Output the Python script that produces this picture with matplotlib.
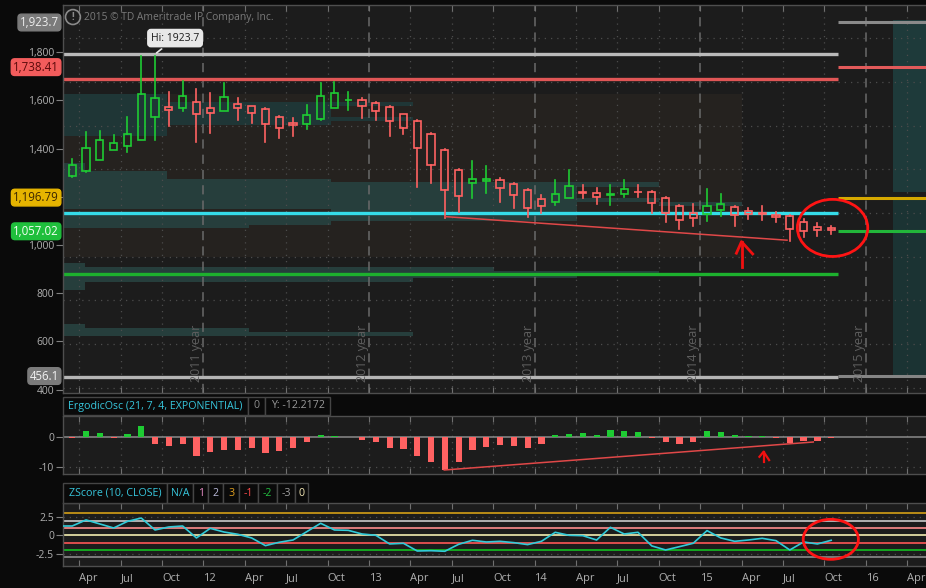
import matplotlib
matplotlib.use('Agg')
import matplotlib.pyplot as plt
import matplotlib.transforms as mtransforms
from matplotlib.patches import Rectangle, Ellipse
import pandas as pd

plt.rcParams['font.family'] = ['Open Sans', 'DejaVu Sans']

# ---------------- data ----------------
months = pd.period_range('2011-03', '2015-10', freq='M')
opens = [1286, 1306, 1353, 1395, 1411, 1436, 1530, 1573, 1569, 1594,
         1569, 1557, 1586, 1577, 1565, 1532, 1505, 1503, 1523, 1569,
         1600, 1602, 1590, 1573, 1543, 1515, 1461, 1395, 1312, 1258,
         1265, 1271, 1254, 1229, 1192, 1180, 1196, 1220, 1217, 1209,
         1211, 1222, 1221, 1196, 1163, 1134, 1130, 1146, 1159, 1142,
         1131, 1125, 1121, 1096, 1076, 1071]
highs = [1357, 1469, 1475, 1458, 1533, 1786, 1786, 1637, 1682, 1649,
         1633, 1674, 1611, 1579, 1567, 1537, 1528, 1581, 1671, 1678,
         1637, 1611, 1592, 1577, 1545, 1517, 1463, 1397, 1314, 1347,
         1330, 1279, 1256, 1231, 1206, 1268, 1310, 1251, 1238, 1251,
         1268, 1251, 1223, 1198, 1165, 1169, 1231, 1213, 1161, 1155,
         1164, 1139, 1123, 1107, 1092, 1080]
lows = [1284, 1304, 1351, 1393, 1385, 1434, 1436, 1492, 1555, 1427,
        1464, 1555, 1519, 1505, 1427, 1443, 1453, 1481, 1521, 1567,
        1561, 1528, 1519, 1453, 1460, 1240, 1258, 1113, 1137, 1196,
        1215, 1178, 1153, 1115, 1134, 1166, 1194, 1195, 1171, 1167,
        1201, 1199, 1134, 1095, 1066, 1079, 1099, 1120, 1079, 1108,
        1102, 1095, 1016, 1033, 1037, 1045]
closes = [1333, 1403, 1436, 1422, 1461, 1627, 1611, 1561, 1619, 1544,
          1548, 1613, 1569, 1548, 1503, 1486, 1497, 1540, 1619, 1633,
          1603, 1577, 1557, 1515, 1486, 1404, 1334, 1229, 1204, 1275,
          1275, 1237, 1208, 1154, 1163, 1213, 1246, 1217, 1199, 1212,
          1233, 1218, 1175, 1134, 1105, 1113, 1163, 1171, 1126, 1127,
          1129, 1116, 1067, 1058, 1063, 1063]
ergodic = [-0.2, 2.1, 1.6, -0.2, 1.2, 3.8, -2.1, -2.8, -2.1, -6.2,
           -4.8, -4.2, -4.2, -3.4, -5.1, -4.4, -3.6, -1.4, 0.8, 0.4,
           0.0, -0.9, -1.4, -3.6, -3.9, -6.2, -8.1, -10.9, -8.1, -4.2,
           -3.1, -2.6, -2.8, -3.4, -2.1, 0.8, 1.1, 1.4, 0.8, 2.4,
           2.1, 1.8, -0.1, -1.4, -2.1, -1.4, 2.1, 1.8, 0.8, 0.4,
           0.4, -0.1, -2.0, -1.1, -1.2, -0.1]
zscore = [1.27, 2.1, 1.55, 1.0, 1.9, 2.36, 0.73, 1.14, 1.27, -0.36,
          0.95, 0.45, 0.14, -0.36, -1.41, -0.95, -0.64, 0.5, 1.64, 0.73,
          0.68, 0.18, 0.0, -1.18, -1.09, -2.14, -2.1, -2.18, -1.23, -0.68,
          -0.91, -0.82, -1.0, -1.27, -0.82, 0.41, 0.0, -0.05, -0.64, 1.09,
          0.18, 0.41, -1.45, -2.0, -1.55, -1.09, 0.64, -0.36, -0.82, -0.64,
          -0.41, -0.73, -2.0, -0.91, -1.18, -0.68]

# study lines: (value, colour) left part / right part
left_levels = [(1793, '#b9b9b9'), (1689, '#e05656'), (1133, '#35dce9'),
               (880, '#1db12e'), (454, '#b5b5b5')]
right_levels = [(1923.7, '#8a8a8a'), (1738.41, '#e25a5a'), (1196.79, '#d6a900'),
                (1057.02, '#22b63a'), (456.1, '#858585')]
price_boxes = [('1,923.7', 1923.7, '#7b7b7b', '#eeeeee'),
               ('1,738.41', 1738.41, '#f25c5c', '#5a0a0a'),
               ('1,196.79', 1196.79, '#e6b400', '#3a2600'),
               ('1,057.02', 1057.02, '#1fbf3c', '#f4fff4'),
               ('456.1', 456.1, '#7b7b7b', '#f2f2f2')]
y_ticks = [1800, 1600, 1400, 1200, 1000, 800, 600, 400]
y_tick_labels = ['1,800', '1,600', '1,400', '', '1,000', '800', '600', '400']
main_hgrid = [1860, 1678, 1496, 1315, 1133, 951, 770, 588, 406]
z_levels = [(3, '#d4a017'), (2, '#c9c9c9'), (1, '#ff8c8c'), (0, '#f3edb0'),
            (-1, '#ff5656'), (-2, '#12c022'), (-3, '#8c8c8c')]

# background profile blocks (u0, u1, v0, v1, colour)
teal_hi = '#1f3636'
teal_lo = '#263e3c'
bg_blocks = [
    (1.83, 51.0, 950, 1627, '#25221f'),
    (1.83, 9.37, 1453, 1627, teal_hi),
    (9.37, 21.25, 1498, 1594, teal_hi),
    (21.25, 27.2, 1577, 1594, teal_hi),
    (21.25, 27.2, 1514, 1531, teal_hi),
    (1.83, 3.43, 1282, 1340, teal_lo),
    (1.83, 9.37, 1149, 1307, teal_lo),
    (9.37, 21.25, 1149, 1274, teal_lo),
    (21.25, 39.1, 1101, 1262, teal_lo),
    (1.83, 15.3, 1070, 1124, teal_lo),
    (15.3, 21.25, 1083, 1124, teal_lo),
    (39.1, 45.0, 1240, 1262, teal_lo),
    (39.1, 45.0, 1177, 1195, teal_lo),
    (45.0, 51.0, 1162, 1177, teal_lo),
    (1.83, 3.43, 813, 925, teal_lo),
    (3.43, 27.2, 847, 909, teal_lo),
    (27.2, 33.1, 864, 909, teal_lo),
    (33.1, 39.1, 864, 892, teal_lo),
    (39.1, 45.0, 879, 892, teal_lo),
    (1.83, 3.43, 622, 671, teal_lo),
    (3.43, 15.3, 622, 654, teal_lo),
    (15.3, 27.2, 622, 638, teal_lo),
    (62.0, 64.4, 1220, 1934, '#1e3a3a'),
    (62.0, 64.4, 452, 1195, '#1b3333'),
]

# ---------------- layout helpers ----------------
W, H = 926, 588
fig = plt.figure(figsize=(W / 100, H / 100), dpi=100, facecolor='#0a0a0a')


def px_axes(x0, y0, x1, y1):
    return fig.add_axes([x0 / W, 1 - y1 / H, (x1 - x0) / W, (y1 - y0) / H])


XL = (1.83, 64.37)
PANEL = '#1c1c1c'
SPINE = '#4e4e4e'
TXT = '#b0b0b0'

ax = px_axes(63, 5, 926, 393)
ax_e = px_axes(63, 416, 926, 474.3)
ax_z = px_axes(63, 503.3, 926, 566)

pos = [(p.year - 2011) * 12 + p.month - 1 + 0.5 for p in months]
qticks = list(range(3, 64, 3))
mnames = {0: None, 3: 'Apr', 6: 'Jul', 9: 'Oct'}
qlabels = [("%02d" % ((2011 + q // 12) % 100)) if q % 12 == 0 else mnames[q % 12]
           for q in qticks]

for a in (ax, ax_e, ax_z):
    a.set_facecolor(PANEL)
    a.set_xlim(*XL)
    for s in a.spines.values():
        s.set_color(SPINE)
        s.set_linewidth(1)
    a.spines['right'].set_visible(False)
    a.set_xticks(qticks)
    a.tick_params(axis='x', direction='in', top=True, bottom=True, length=4,
                  color='#707070', labelbottom=False)
    a.tick_params(axis='y', direction='out', length=5, color='#808080',
                  labelcolor=TXT, labelsize=7.5, pad=1.5)

# ---------------- main panel ----------------
ax.set_ylim(385.7, 1996.3)
for u0, u1, v0, v1, c in bg_blocks:
    ax.add_patch(Rectangle((u0, v0), u1 - u0, v1 - v0, fc=c, ec='none', zorder=0.5))

for q in qticks:
    if q % 12 == 0:
        ax.axvline(q, color='#6a6a6a', lw=1.1, ls=(0, (6, 4)), zorder=1)
    else:
        ax.axvline(q, color='#4c4c4c', lw=0.9, ls=(0, (1, 4)), zorder=1)
for g in main_hgrid:
    ax.axhline(g, color='#4c4c4c', lw=0.9, ls=(0, (1, 4)), zorder=1)

ax.set_yticks(y_ticks)
ax.set_yticklabels(y_tick_labels)

split = 58.0
for v, c in left_levels:
    ax.plot([XL[0], split], [v, v], color=c, lw=2.4, solid_capstyle='butt', zorder=2)
for v, c in right_levels:
    ax.plot([split, XL[1]], [v, v], color=c, lw=2.2, solid_capstyle='butt', zorder=2)

for yr in range(2011, 2016):
    u = (yr - 2011 + 1) * 12 - 0.46
    ax.text(u, 431, f'{yr} year', rotation=90, ha='center', va='bottom',
            color='#5e5e5e', fontsize=9, zorder=2)

GREEN = '#1ecb33'
RED = '#ff6262'
bw = 0.52
for x, o, h, l, c in zip(pos, opens, highs, lows, closes):
    col = GREEN if c > o else RED
    top, bot = max(o, c), min(o, c)
    ax.plot([x, x], [top, h], color=col, lw=1.2, zorder=4)
    ax.plot([x, x], [l, bot], color=col, lw=1.2, zorder=4)
    ax.add_patch(Rectangle((x - bw / 2, bot), bw, max(top - bot, 3), fc='none',
                           ec=col, lw=1.2, zorder=4))

# trendline and annotations
ax.plot([29.5, 54.3], [1118, 1020], color='#e04848', lw=1.1, zorder=5)
ax.plot([51.0, 51.0], [910, 1014], color='#f01010', lw=2, zorder=6)
ax.plot([50.63, 51.0, 51.81], [966, 1014, 963], color='#f01010', lw=2, zorder=6)
ax.add_patch(Ellipse((57.6, 1071), 5.1, 237, fc='none', ec='#ff1414', lw=2, zorder=6))

ax.annotate('Hi: 1923.7', xy=(8.45, 1790), xytext=(9.95, 1859), ha='center',
            va='center', fontsize=7.5, color='#1a1a1a', zorder=7,
            bbox=dict(boxstyle='round,pad=0.3', fc='#e8e8e8', ec='#e8e8e8'),
            arrowprops=dict(arrowstyle='-', color='#e8e8e8', lw=1.2))

ax.text(0.0115, 0.969, '!', transform=ax.transAxes, ha='center', va='center',
        fontsize=7, fontweight='bold', color='#8a8a8a',
        bbox=dict(boxstyle='circle,pad=0.2', fc='none', ec='#8a8a8a', lw=1.2))
ax.text(0.0245, 0.969, '2015 \u00a9 TD Ameritrade IP Company, Inc.', transform=ax.transAxes,
        ha='left', va='center', fontsize=7.4, color='#7a7a7a')

btr = mtransforms.blended_transform_factory(fig.transFigure, ax.transData)
for lab, v, fc, tc in price_boxes:
    fig.text(59 / W, v, lab, transform=btr, ha='right', va='center', fontsize=8.3,
             color=tc, zorder=10,
             bbox=dict(boxstyle='round,pad=0.16,rounding_size=0.3', fc=fc, ec=fc))

# ---------------- ergodic panel ----------------
ax_e.set_ylim(-12.33, 7.1)
for q in qticks:
    ax_e.axvline(q, color='#4c4c4c', lw=0.9, ls=(0, (1, 4)), zorder=1)
ax_e.axhline(-10, color='#4c4c4c', lw=0.9, ls=(0, (1, 4)), zorder=1)
ax_e.axhline(0, color='#8a8a8a', lw=1.1, zorder=2)
ax_e.bar(pos, ergodic, width=0.45, color=[GREEN if e > 0 else RED for e in ergodic],
         zorder=3)
ax_e.set_yticks([0, -10])
ax_e.set_yticklabels(['0', '-10'])
ax_e.plot([29.46, 56.2], [-10.9, -1.57], color='#e04848', lw=1.1, zorder=4)
ax_e.plot([52.6, 52.6], [-8.1, -4.8], color='#f01010', lw=1.6, zorder=5)
ax_e.plot([52.3, 52.6, 53.0], [-6.5, -4.8, -7.6], color='#f01010', lw=1.6, zorder=5)

# ---------------- zscore panel ----------------
ax_z.set_ylim(-4.19, 4.37)
for g in (2.5, -2.5):
    ax_z.axhline(g, color='#4c4c4c', lw=0.9, ls=(0, (1, 4)), zorder=1)
for v, c in z_levels:
    ax_z.axhline(v, color=c, lw=1.2, zorder=2)
ax_z.plot([XL[0]] + pos, [zscore[0]] + zscore, color='#31cbd9', lw=1.2, zorder=3)
ax_z.set_yticks([2.5, 0, -2.5])
ax_z.set_yticklabels(['2.5', '0', '-2.5'])
ax_z.add_patch(Ellipse((57.47, -0.55), 4.0, 5.46, fc='none', ec='#ff1414', lw=2, zorder=6))
ax_z.tick_params(axis='x', labelbottom=True, labelcolor=TXT, labelsize=8, pad=5)
ax_z.set_xticklabels(qlabels)
for t in ax_z.get_xticklabels():
    t.set_ha('left')

# ---------------- headers ----------------
def header_box(x0, x1, y0, y1, text, color):
    fig.patches.append(Rectangle((x0 / W, 1 - y1 / H), (x1 - x0) / W, (y1 - y0) / H,
                                 transform=fig.transFigure, fc='#0a0a0a',
                                 ec='#454545', lw=1))
    fig.text((x0 + x1) / 2 / W, 1 - (y0 + y1) / 2 / H, text, ha='center', va='center',
             fontsize=7.7, color=color)

header_box(63, 248, 397, 415, 'ErgodicOsc (21, 7, 4, EXPONENTIAL)', '#37c6dc')
header_box(248, 265, 397, 415, '0', '#8c8c8c')
header_box(265, 330, 397, 415, 'Y: -12.2172', '#9a9a9a')

zs_boxes = [(63, 166.7, 'ZScore (10, CLOSE)', '#37c6dc'),
            (166.7, 193.3, 'N/A', '#37c6dc'),
            (193.3, 208.3, '1', '#e58cc4'),
            (208.3, 223.3, '2', '#b8b8d8'),
            (223.3, 239.3, '3', '#e0a020'),
            (239.3, 258.3, '-1', '#ff4a4a'),
            (258.3, 276.7, '-2', '#22c040'),
            (276.7, 295, '-3', '#a0a0a0'),
            (295, 308.3, '0', '#f3e6b4')]
for x0, x1, t, c in zs_boxes:
    header_box(x0, x1, 483, 503, t, c)

fig.savefig('out.png', dpi=100, facecolor=fig.get_facecolor())
